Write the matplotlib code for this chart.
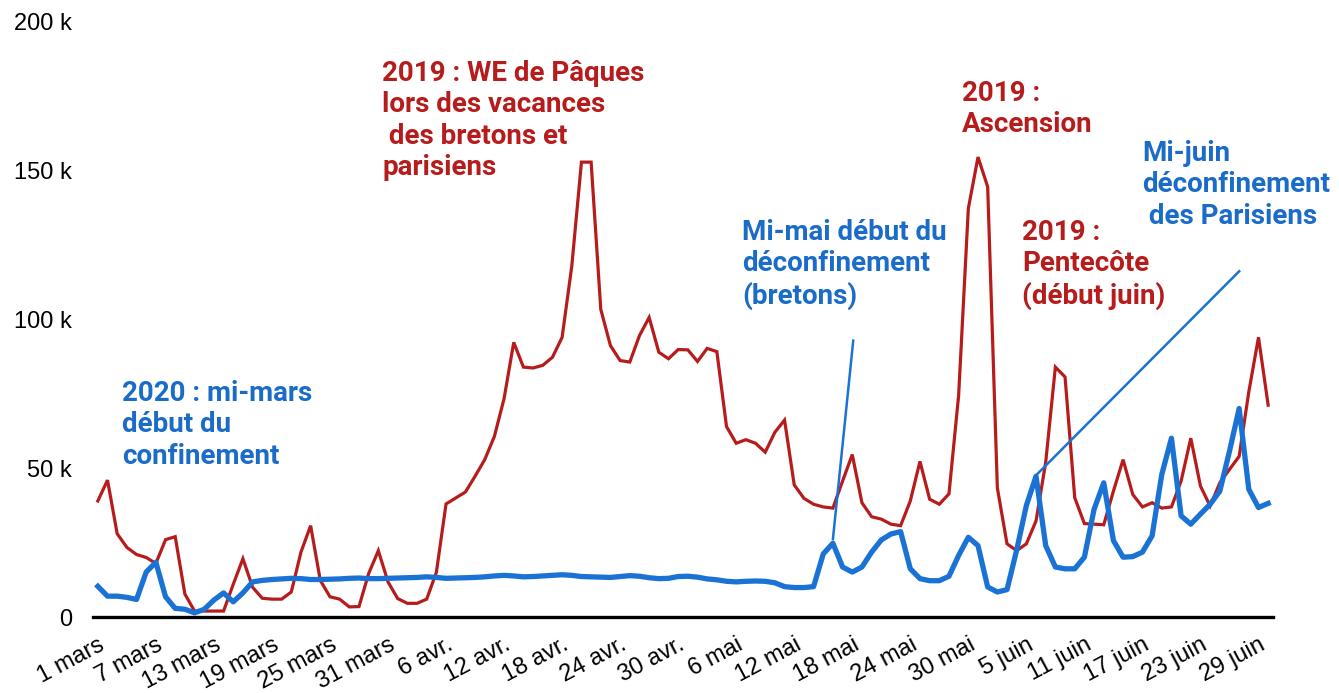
import matplotlib.pyplot as plt

# fréquentation quotidienne (en milliers), du 1 mars au 30 juin
val_2019 = [39, 46, 28, 23.4, 21, 20, 18, 26, 27, 7.7,
            2, 2, 2, 2, 11, 19.6, 10, 6.3, 6, 6,
            8.4, 21.8, 30.7, 12.3, 6.8, 6, 3.4, 3.5, 14.6, 22.3,
            11.8, 6.2, 4.6, 4.6, 6, 15, 38, 40, 42, 47.3,
            52.9, 60.7, 73.4, 92.3, 84, 83.7, 84.6, 87.3, 94, 117.9,
            152.9, 152.9, 103.4, 91.2, 86.2, 85.7, 94.6, 100.7, 89, 86.8,
            89.9, 89.8, 85.9, 90.3, 89.2, 64, 58.4, 59.6, 58.4, 55.4,
            62.1, 66.2, 44.4, 39.9, 37.9, 37, 36.6, 45.7, 54.6, 38.4,
            33.7, 32.9, 31.2, 30.7, 39, 52.3, 39.6, 37.9, 41.4, 74.6,
            137.3, 154.6, 144.6, 43.4, 24.6, 22.3, 24.6, 32.3, 52, 84,
            80.7, 40.1, 31.4, 31.2, 31, 42.3, 52.9, 41.2, 37, 38.4,
            36.6, 37, 45.7, 60.1, 44, 37.3, 45.1, 49.6, 54, 75.7,
            94, 71.2]

val_2020 = [10.3, 7, 7, 6.6, 5.9, 15.1, 18.4, 6.8, 2.9, 2.6,
            1.4, 2.6, 5.7, 8.1, 5.1, 8.1, 11.8, 12.3, 12.6, 12.8,
            13.0, 12.9, 12.6, 12.6, 12.7, 12.8, 13.0, 13.1, 12.9, 12.9,
            13.0, 13.1, 13.2, 13.3, 13.5, 13.3, 13.0, 13.1, 13.2, 13.3,
            13.5, 13.8, 14.0, 13.8, 13.5, 13.6, 13.8, 14.0, 14.2, 14.0,
            13.6, 13.5, 13.4, 13.3, 13.6, 13.9, 13.7, 13.2, 12.9, 13.0,
            13.6, 13.7, 13.4, 12.8, 12.5, 12.0, 11.8, 12.0, 12.1, 12.0,
            11.5, 10.2, 9.9, 9.9, 10.2, 21.2, 24.8, 16.8, 15.1, 16.8,
            21.8, 25.9, 27.9, 28.7, 16.2, 12.9, 12.2, 12.2, 13.7, 20.7,
            26.8, 24, 10.1, 8.4, 9.2, 22.5, 37.5, 47.3, 24, 16.8,
            16.2, 16.2, 20.1, 36.2, 45.1, 25.7, 20.1, 20.3, 21.8, 27.3,
            47.9, 60.1, 34, 31.2, 34.6, 37.9, 42.3, 55.7, 70.1, 42.9,
            36.8, 38.2]

tick_labels = ['1 mars', '7 mars', '13 mars', '19 mars', '25 mars', '31 mars',
               '6 avr.', '12 avr.', '18 avr.', '24 avr.', '30 avr.',
               '6 mai', '12 mai', '18 mai', '24 mai', '30 mai',
               '5 juin', '11 juin', '17 juin', '23 juin', '29 juin']
y_ticks = [0, 50, 100, 150, 200]
y_labels = ['0', '50 k', '100 k', '150 k', '200 k']

RED = '#B71C1C'
BLUE = '#1A73D4'
BLUE_TXT = '#1A6CC8'

W, H = 1339, 693
fig = plt.figure(figsize=(W / 100, H / 100), dpi=100)
ax = fig.add_axes([93 / W, 1 - 617 / H, (1273 - 93) / W, (617 - 22) / H])

days = list(range(len(val_2019)))
ax.plot(days, val_2019, color=RED, lw=2.3, solid_joinstyle='miter', clip_on=False)
ax.plot(days, val_2020, color=BLUE, lw=3.8, clip_on=False)

ax.set_xlim(-0.5, len(days) - 0.5)
ax.set_ylim(0, 200)
ax.set_xticks(days[::6])
ax.set_xticklabels(tick_labels, rotation=28, ha='right', rotation_mode='anchor',
                   family='Liberation Sans', fontsize=17)
ax.set_yticks(y_ticks)
ax.set_yticklabels(y_labels, family='Liberation Sans', fontsize=17)
ax.tick_params(length=0)
ax.tick_params(axis='x', pad=12)
ax.tick_params(axis='y', pad=15)
for s in ['top', 'right', 'left']:
    ax.spines[s].set_visible(False)
ax.spines['bottom'].set_linewidth(2.4)

# traits de rappel
ax.plot([76.0, 78.1], [26.2, 92.9], color=BLUE, lw=1.8)
ax.plot([96.9, 118.0], [47.3, 116.2], color=BLUE, lw=1.8)


def label(x, y, s, color):
    fig.text(x / W, 1 - y / H, s, color=color, family='Roboto', weight='bold',
             fontsize=20, va='top', ha='left', linespacing=1.21)


label(122, 380, '2020 : mi-mars\ndébut du\nconfinement', BLUE_TXT)
label(382, 60, '2019 : WE de Pâques\nlors des vacances\n des bretons et\nparisiens', RED)
label(962, 80, '2019 :\nAscension', RED)
label(742, 219, 'Mi-mai début du\ndéconfinement\n(bretons)', BLUE_TXT)
label(1022, 219, '2019 :\nPentecôte\n(début juin)', RED)
label(1142, 140, 'Mi-juin\ndéconfinement\n des Parisiens', BLUE_TXT)

fig.savefig('out.png', dpi=100)
